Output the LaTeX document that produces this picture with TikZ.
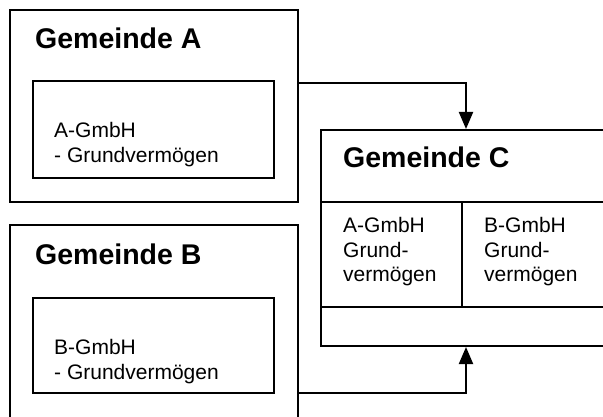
\documentclass[tikz,border=0pt]{standalone}
\usepackage{fontspec}
\setmainfont{Liberation Sans}
\usetikzlibrary{arrows.meta}
\begin{document}
\begin{tikzpicture}[x=1pt,y=-1pt,
  box/.style={draw, line width=2pt, rectangle, inner sep=0pt},
  title/.style={anchor=base west, inner sep=0pt, font=\fontsize{28.5}{30}\selectfont\bfseries},
  body/.style={anchor=north west, inner sep=0pt, align=left, font=\fontsize{21}{24.5}\selectfont},
  divider/.style={line width=2pt},
  arr/.style={line width=2pt, -{Triangle[width=14pt,length=17pt]}}]
\clip (0,0) rectangle (603,417);
\fill[white] (0,0) rectangle (603,417);
% Gemeinde A
\node[box, minimum width=288, minimum height=192] (A) at (154,106) {};
\node[title] (tA) at (35,49) {Gemeinde A};
\node[box, minimum width=241, minimum height=97] (iA) at (153.5,129.5) {};
\node[body] (bA) at (54,122.5) {A-GmbH\\- Grundverm\"ogen};
% Gemeinde B
\node[box, minimum width=288, minimum height=215] (B) at (154,332.5) {};
\node[title] (tB) at (35,265) {Gemeinde B};
\node[box, minimum width=241, minimum height=95] (iB) at (153.5,345.5) {};
\node[body] (bB) at (54,339.5) {B-GmbH\\- Grundverm\"ogen};
% Gemeinde C
\node[box, minimum width=290, minimum height=216] (C) at (466,238) {};
\node[title] (tC) at (343,168) {Gemeinde C};
\coordinate (d1) at (0,202);
\coordinate (d2) at (0,307);
\coordinate (vx) at (462,0);
\draw[divider] (C.west |- d1) -- (C.east |- d1);
\draw[divider] (C.west |- d2) -- (C.east |- d2);
\draw[divider] (vx |- d1) -- (vx |- d2);
\node[body] (cA) at (343,217.5) {A-GmbH\\Grund-\\verm\"ogen};
\node[body] (cB) at (484,217.5) {B-GmbH\\Grund-\\verm\"ogen};
% connectors
\coordinate (yA) at (0,83);
\coordinate (yB) at (0,393);
\draw[arr] (A.east |- yA) -| (C.north);
\draw[arr] (B.east |- yB) -| (C.south);
\end{tikzpicture}
\end{document}
